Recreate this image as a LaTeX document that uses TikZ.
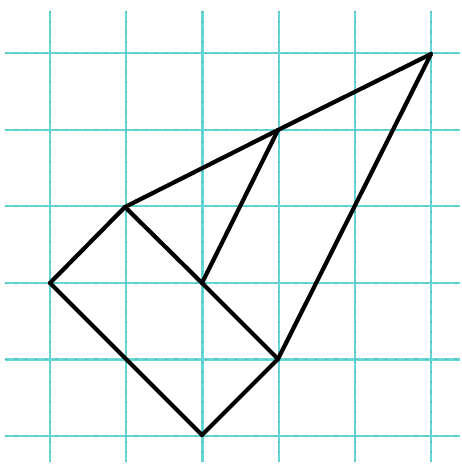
\documentclass[tikz,border=0pt]{standalone}
\definecolor{gridcyan}{RGB}{100,215,215}
\definecolor{griddark}{RGB}{60,90,90}
\begin{document}
\begin{tikzpicture}[x=1pt,y=-1pt,
  gridline/.style={draw=gridcyan,line width=2.2pt},
  gridmark/.style={draw=griddark,line width=0.6pt,dash pattern=on 2pt off 8pt,opacity=0.3},
  edge/.style={draw=black,line width=4.2pt,line cap=round,line join=round}]
\useasboundingbox (0,0) rectangle (462,466);
\foreach \i in {0,...,5}{
  \pgfmathsetmacro{\xx}{50+76.2*\i}
  \draw[gridline] (\xx,11) -- (\xx,462);
  \draw[gridmark] (\xx,11) -- (\xx,462);
}
\foreach \j in {0,...,5}{
  \pgfmathsetmacro{\yy}{53+76.6*\j}
  \draw[gridline] (5,\yy) -- (460,\yy);
  \draw[gridmark] (5,\yy) -- (460,\yy);
}
\coordinate (A) at (431,54);
\coordinate (B) at (278,130);
\coordinate (C) at (125,207);
\coordinate (D) at (50,283);
\coordinate (E) at (202,283);
\coordinate (F) at (278,359);
\coordinate (G) at (202,435);
\draw[edge] (C) -- (B);
\draw[edge] (B) -- (A);
\draw[edge] (A) -- (F);
\draw[edge] (F) -- (G);
\draw[edge] (G) -- (D);
\draw[edge] (D) -- (C);
\draw[edge] (C) -- (E);
\draw[edge] (E) -- (F);
\draw[edge] (E) -- (B);
\end{tikzpicture}
\end{document}
